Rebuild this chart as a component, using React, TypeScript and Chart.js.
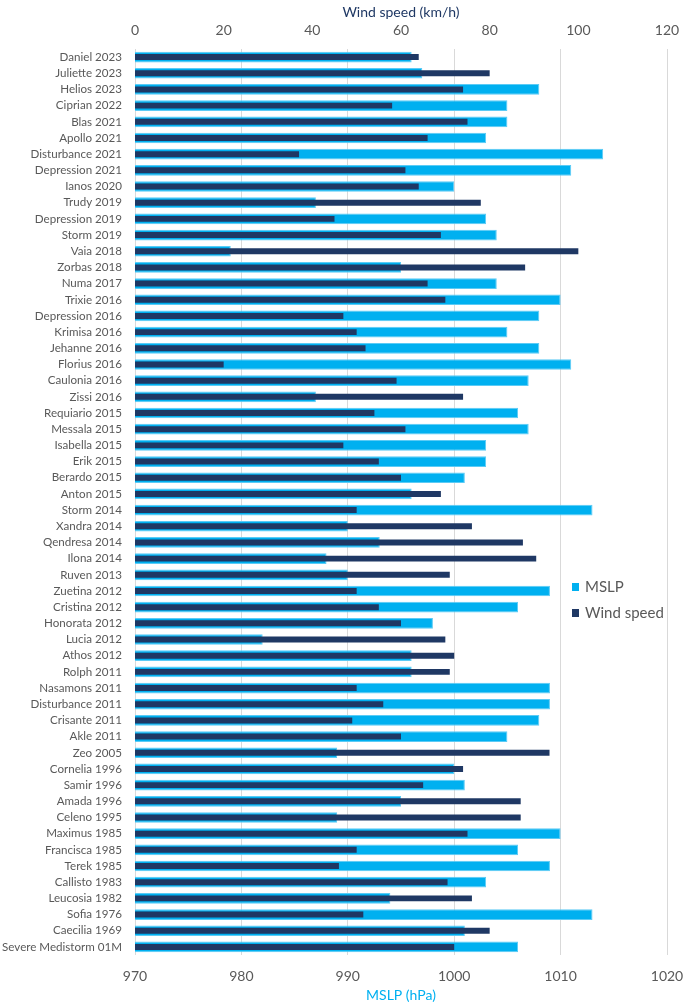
import React, { useEffect, useRef } from "react";
import { Chart, registerables } from "chart.js";

Chart.register(...registerables);

const categories: string[] = [
  "Daniel 2023", "Juliette 2023", "Helios 2023", "Ciprian 2022", "Blas 2021", "Apollo 2021",
  "Disturbance 2021", "Depression 2021", "Ianos 2020", "Trudy 2019", "Depression 2019", "Storm 2019",
  "Vaia 2018", "Zorbas 2018", "Numa 2017", "Trixie 2016", "Depression 2016", "Krimisa 2016",
  "Jehanne 2016", "Florius 2016", "Caulonia 2016", "Zissi 2016", "Requiario 2015", "Messala 2015",
  "Isabella 2015", "Erik 2015", "Berardo 2015", "Anton 2015", "Storm 2014", "Xandra 2014",
  "Qendresa 2014", "Ilona 2014", "Ruven 2013", "Zuetina 2012", "Cristina 2012", "Honorata 2012",
  "Lucia 2012", "Athos 2012", "Rolph 2011", "Nasamons 2011", "Disturbance 2011", "Crisante 2011",
  "Akle 2011", "Zeo 2005", "Cornelia 1996", "Samir 1996", "Amada 1996", "Celeno 1995",
  "Maximus 1985", "Francisca 1985", "Terek 1985", "Callisto 1983", "Leucosia 1982", "Sofia 1976",
  "Caecilia 1969", "Severe Medistorm 01M",
];

const mslp: number[] = [
  996, 997, 1008, 1005, 1005, 1003,
  1014, 1011, 1000, 987, 1003, 1004,
  979, 995, 1004, 1010, 1008, 1005,
  1008, 1011, 1007, 987, 1006, 1007,
  1003, 1003, 1001, 996, 1013, 990,
  993, 988, 990, 1009, 1006, 998,
  982, 996, 996, 1009, 1009, 1008,
  1005, 989, 1000, 1001, 995, 989,
  1010, 1006, 1009, 1003, 994, 1013,
  1001, 1006,
];

const windSpeed: number[] = [
  64, 80, 74, 58, 75, 66,
  37, 61, 64, 78, 45, 69,
  100, 88, 66, 70, 47, 50,
  52, 20, 59, 74, 54, 61,
  47, 55, 60, 69, 50, 76,
  87.5, 90.5, 71, 50, 55, 60,
  70, 72, 71, 50, 56, 49,
  60, 93.5, 74, 65, 87, 87,
  75, 50, 46, 70.5, 76, 51.5,
  80, 72,
];

const mslpTicks = { min: 970, max: 1020, step: 10 };
const windTicks = { min: 0, max: 120, step: 20 };

const MSLP_COLOR = "#00B0F0";
const WIND_COLOR = "#1F3864";
const TEXT_COLOR = "#595959";
const FONT = "Lato, 'Open Sans', sans-serif";

const legendPlugin = {
  id: "customLegend",
  afterDraw(chart: any) {
    const { ctx, chartArea } = chart;
    const items = [
      { label: "MSLP", color: MSLP_COLOR },
      { label: "Wind speed", color: WIND_COLOR },
    ];
    ctx.save();
    ctx.font = `15px ${FONT}`;
    ctx.textBaseline = "middle";
    ctx.textAlign = "left";
    const x = chartArea.right - 95;
    items.forEach((it, i) => {
      const y = chartArea.top + 538 + i * 26;
      ctx.fillStyle = it.color;
      ctx.fillRect(x, y - 4, 7, 8);
      ctx.fillStyle = TEXT_COLOR;
      ctx.fillText(it.label, x + 13, y);
    });
    ctx.restore();
  },
};

export default function App() {
  const canvasRef = useRef<HTMLCanvasElement | null>(null);

  useEffect(() => {
    if (!canvasRef.current) return;
    const chart = new Chart(canvasRef.current, {
      type: "bar",
      data: {
        labels: categories,
        datasets: [
          {
            label: "MSLP",
            data: mslp,
            xAxisID: "x",
            backgroundColor: MSLP_COLOR,
            borderColor: "#5CCBF5",
            borderWidth: 1,
            borderSkipped: false,
            barPercentage: 0.66,
            categoryPercentage: 1,
            grouped: false,
            order: 2,
          },
          {
            label: "Wind speed",
            data: windSpeed,
            xAxisID: "x2",
            backgroundColor: WIND_COLOR,
            borderWidth: 0,
            barPercentage: 0.37,
            categoryPercentage: 1,
            grouped: false,
            order: 1,
          },
        ],
      },
      options: {
        indexAxis: "y",
        animation: false,
        responsive: false,
        maintainAspectRatio: false,
        layout: { padding: { left: 0, right: 18, top: 0, bottom: 0 } },
        plugins: {
          legend: { display: false },
          tooltip: { enabled: false },
        },
        scales: {
          x: {
            type: "linear",
            position: "bottom",
            min: mslpTicks.min,
            max: mslpTicks.max,
            ticks: {
              stepSize: mslpTicks.step,
              color: TEXT_COLOR,
              font: { family: FONT, size: 14 },
              padding: 13,
              callback: (v: any) => String(v),
            },
            grid: { color: "#D9D9D9", drawTicks: false, lineWidth: 1 },
            border: { display: false },
            title: {
              display: true,
              text: "MSLP (hPa)",
              color: MSLP_COLOR,
              font: { family: FONT, size: 14 },
              padding: { top: 0, bottom: 4 },
            },
            afterFit: (scale: any) => {
              scale.height = 53;
              scale.paddingLeft = 0;
              scale.paddingRight = 0;
            },
          },
          x2: {
            type: "linear",
            position: "top",
            min: windTicks.min,
            max: windTicks.max,
            ticks: {
              stepSize: windTicks.step,
              color: TEXT_COLOR,
              font: { family: FONT, size: 14 },
              padding: 10,
              callback: (v: any) => String(v),
            },
            grid: { display: false, drawTicks: false },
            border: { display: false },
            title: {
              display: true,
              text: "Wind speed (km/h)",
              color: WIND_COLOR,
              font: { family: FONT, size: 14 },
              padding: { top: 4, bottom: 0 },
            },
            afterFit: (scale: any) => {
              scale.height = 49;
              scale.paddingLeft = 0;
              scale.paddingRight = 0;
            },
          },
          y: {
            type: "category",
            position: "left",
            ticks: {
              color: TEXT_COLOR,
              font: { family: FONT, size: 11.6 },
              padding: 13,
              autoSkip: false,
            },
            grid: { display: false, drawTicks: false },
            border: { display: false },
            afterFit: (scale: any) => {
              scale.width = 135;
              scale.paddingTop = 0;
              scale.paddingBottom = 0;
            },
          },
        },
      } as any,
      plugins: [legendPlugin],
    });
    return () => chart.destroy();
  }, []);

  return (
    <div style={{ position: "fixed", left: 0, top: 0, width: 685, height: 1008, background: "#fff" }}>
      <canvas ref={canvasRef} width={685} height={1008} style={{ display: "block" }} />
    </div>
  );
}
